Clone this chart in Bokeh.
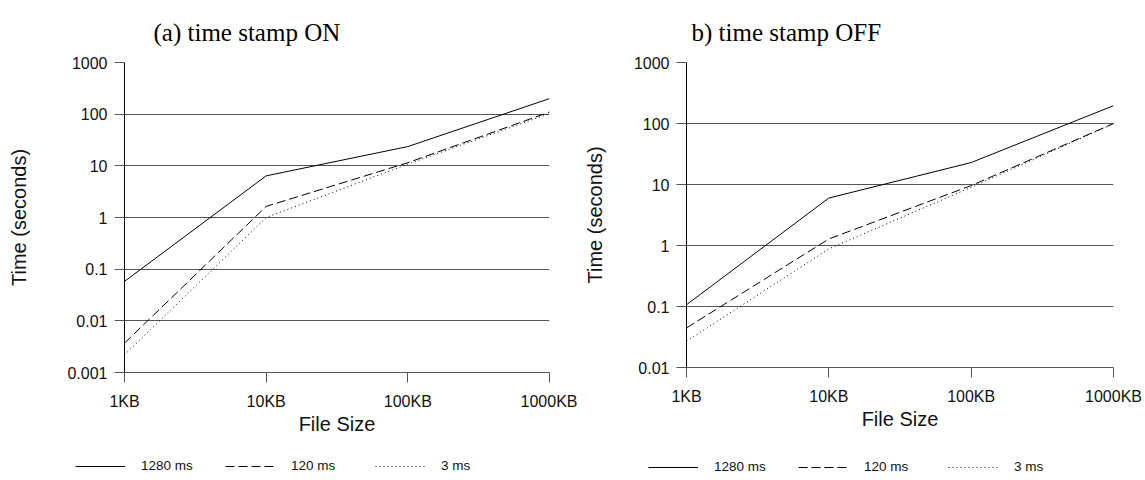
from bokeh.plotting import figure
from bokeh.layouts import row, column
from bokeh.models import FixedTicker, Legend, LegendItem, Range1d
from bokeh.embed import file_html
from bokeh.resources import INLINE

# ---- data ----
sizes = [1, 10, 100, 1000]                       # file size in KB
size_labels = ["1KB", "10KB", "100KB", "1000KB"]
series_names = ["1280 ms", "120 ms", "3 ms"]

on_1280 = [0.058, 6.4, 23.6, 200]
on_120 = [0.0037, 1.64, 11.5, 110]
on_3 = [0.0022, 1.0, 10.8, 103]

off_1280 = [0.107, 6.0, 22.9, 196]
off_120 = [0.0445, 1.28, 9.6, 100]
off_3 = [0.027, 0.88, 9.0, 99]

y_ticks_on = [0.001, 0.01, 0.1, 1, 10, 100, 1000]
y_labels_on = ["0.001", "0.01", "0.1", "1", "10", "100", "1000"]
y_ticks_off = [0.01, 0.1, 1, 10, 100, 1000]
y_labels_off = ["0.01", "0.1", "1", "10", "100", "1000"]

GRID = "#555555"
SANS = "Liberation Sans"
DASHES = ["solid", "9 4", "1 3"]


def make(title, title_offset, series, yticks, ylabels, width, height, bl, br, ylab_standoff):
    p = figure(width=width, height=height, x_axis_type="log", y_axis_type="log",
               x_range=Range1d(sizes[0], sizes[-1]),
               y_range=Range1d(yticks[0], yticks[-1]),
               output_backend="svg", toolbar_location=None,
               min_border_left=bl, min_border_right=br,
               min_border_top=58, min_border_bottom=83)
    p.outline_line_color = None
    p.background_fill_color = "white"
    p.border_fill_color = "white"

    p.title.text = title
    p.title.align = "left"
    p.title.offset = title_offset
    p.title.standoff = 33
    p.title.text_font = "Liberation Serif"
    p.title.text_font_size = "25px"
    p.title.text_font_style = "normal"
    p.title.text_color = "black"

    xa = p.below[0]
    ya = p.left[0]
    xt = FixedTicker(ticks=sizes, minor_ticks=[])
    yt = FixedTicker(ticks=yticks, minor_ticks=[])
    xa.ticker = xt
    ya.ticker = yt
    xa.major_label_overrides = {s: l for s, l in zip(sizes, size_labels)}
    ya.major_label_overrides = {t: l for t, l in zip(yticks, ylabels)}

    p.xgrid.visible = False
    p.ygrid.ticker = yt
    p.ygrid.grid_line_color = GRID
    p.ygrid.grid_line_width = 1

    for ax in (xa, ya):
        ax.major_label_text_font = SANS
        ax.major_label_text_font_size = "16px"
        ax.major_label_text_color = "#111111"
        ax.axis_label_text_font = SANS
        ax.axis_label_text_font_size = "20px"
        ax.axis_label_text_font_style = "normal"
        ax.axis_label_text_color = "#111111"
        ax.major_tick_in = 0
        ax.major_tick_out = 10
        ax.major_tick_line_color = GRID
        ax.minor_tick_line_color = None

    xa.axis_label = "File Size"
    xa.axis_line_color = GRID
    xa.major_label_standoff = 10
    xa.axis_label_standoff = 0
    ya.axis_label = "Time (seconds)"
    ya.axis_line_color = "black"
    ya.major_label_standoff = 7
    ya.axis_label_standoff = ylab_standoff

    for ys, d in zip(series, DASHES):
        p.line(sizes, ys, line_color="black", line_width=1, line_dash=d)
    return p


def legend_fig(width, height, lx, ly, series):
    q = figure(width=width, height=height, x_range=Range1d(0, 1), y_range=Range1d(0, 1),
               output_backend="svg", toolbar_location=None,
               x_axis_location=None, y_axis_location=None,
               min_border=0)
    q.outline_line_color = None
    q.xgrid.visible = False
    q.ygrid.visible = False
    items = []
    for name, ys, d in zip(series_names, series, DASHES):
        # one-point line: draws nothing itself, only provides the legend glyph
        r = q.line(x=sizes[:1], y=ys[:1], line_color="black", line_width=1, line_dash=d)
        items.append(LegendItem(label=name, renderers=[r]))
    leg = Legend(items=items, location=(lx, ly), orientation="horizontal",
                 glyph_width=50, glyph_height=14, label_height=14,
                 label_width=84, label_standoff=16, spacing=0, padding=0, margin=0,
                 border_line_color=None, background_fill_alpha=0,
                 label_text_font=SANS, label_text_font_size="13.5px",
                 label_text_color="#111111")
    q.add_layout(leg)
    return q


s_on = [on_1280, on_120, on_3]
s_off = [off_1280, off_120, off_3]
p1 = make("(a) time stamp ON", 29, s_on, y_ticks_on, y_labels_on, 577, 455, 124, 28, 34)
p2 = make("b) time stamp OFF", 5, s_off, y_ticks_off, y_labels_off, 567, 450, 109, 31, 25)
l1 = legend_fig(577, 24, 75, 6, s_on)
l2 = legend_fig(567, 24, 71, 5, s_off)

layout = column(row(p1, p2), row(l1, l2))
open("out.html", "w").write(file_html(layout, INLINE))
